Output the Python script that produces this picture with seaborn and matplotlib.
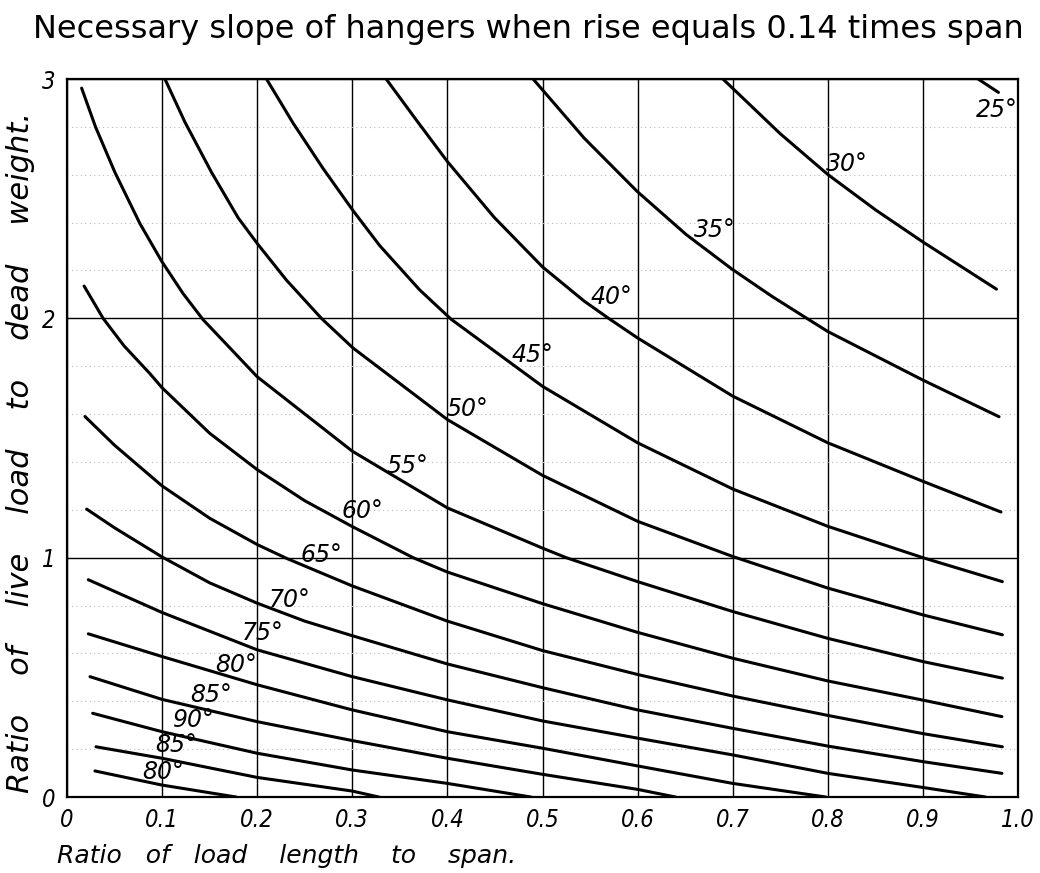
import numpy as np
import pandas as pd
import seaborn as sns
import matplotlib.pyplot as plt
from matplotlib.ticker import MultipleLocator

#****************************************
# Curves: x = load length / span, y = live load / dead weight
x_25 = [0.958, 0.9794]
y_25 = [3.00, 2.944]

x_30 = [0.6897, 0.7498, 0.80, 0.8506, 0.90, 0.9773]
y_30 = [3.00, 2.772, 2.601, 2.452, 2.319, 2.122]

x_35 = [0.4901, 0.5438, 0.5996, 0.6511, 0.6991, 0.7412, 0.7755, 0.80, 0.90, 0.98]
y_35 = [3.00, 2.753, 2.53, 2.35, 2.206, 2.092, 2.006, 1.945, 1.742, 1.589]

x_40 = [0.3356, 0.3678, 0.40, 0.4494, 0.50, 0.5438, 0.5695, 0.60, 0.70, 0.80, 0.90, 0.982]
y_40 = [3.00, 2.826, 2.655, 2.421, 2.215, 2.072, 2.00, 1.918, 1.675, 1.48, 1.319, 1.191]

x_45 = [0.2098, 0.2377, 0.2693, 0.3008, 0.3288, 0.3708, 0.404, 0.50, 0.60, 0.70, 0.80, 0.90, 0.9835]
y_45 = [3.00, 2.816, 2.626, 2.45, 2.304, 2.119, 1.996, 1.716, 1.48, 1.287, 1.131, 1.00, 0.90]

x_50 = [0.103, 0.124, 0.152, 0.180, 0.2006, 0.2307, 0.2675, 0.3008, 0.40, 0.50, 0.60, 0.70, 0.80, 0.90, 0.9835]
y_50 = [3.00, 2.82, 2.61, 2.42, 2.31, 2.16, 2.00, 1.876, 1.577, 1.344, 1.152, 1.005, 0.873, 0.761, 0.678]

x_55 = [0.0154, 0.03, 0.0504, 0.0767, 0.0995, 0.122, 0.143, 0.20, 0.30, 0.40, 0.50, 0.525, 0.60, 0.70, 0.80, 0.90, 0.9835]
y_55 = [2.962, 2.80, 2.61, 2.396, 2.239, 2.104, 1.995, 1.756, 1.445, 1.208, 1.04, 1.00, 0.90, 0.775, 0.663, 0.566, 0.497]

x_60 = [0.018, 0.038, 0.06, 0.087, 0.10, 0.15, 0.20, 0.25, 0.30, 0.364, 0.40, 0.50, 0.60, 0.70, 0.80, 0.90, 0.983]
y_60 = [2.135, 2.00, 1.885, 1.77, 1.71, 1.52, 1.368, 1.238, 1.13, 1.00, 0.94, 0.808, 0.688, 0.58, 0.485, 0.405, 0.336]

x_65 = [0.0189, 0.05, 0.10, 0.15, 0.20, 0.231, 0.30, 0.40, 0.50, 0.60, 0.70, 0.80, 0.90, 0.9835]
y_65 = [1.59, 1.47, 1.30, 1.165, 1.055, 0.997, 0.882, 0.735, 0.612, 0.512, 0.422, 0.341, 0.265, 0.21]

x_70 = [0.0207, 0.05, 0.10, 0.15, 0.20, 0.25, 0.30, 0.40, 0.50, 0.60, 0.70, 0.80, 0.90, 0.983]
y_70 = [1.203, 1.125, 1.003, 0.895, 0.81, 0.735, 0.674, 0.556, 0.457, 0.364, 0.287, 0.213, 0.148, 0.099]

x_75 = [0.0224, 0.10, 0.20, 0.30, 0.40, 0.50, 0.60, 0.70, 0.80, 0.90, 0.966]
y_75 = [0.908, 0.771, 0.615, 0.503, 0.406, 0.318, 0.246, 0.176, 0.099, 0.04, 0.0]

x_80 = [0.0224, 0.10, 0.20, 0.30, 0.40, 0.50, 0.60, 0.70, 0.798]
y_80 = [0.682, 0.587, 0.469, 0.364, 0.273, 0.204, 0.13, 0.057, 0.0]

x_85 = [0.0242, 0.10, 0.20, 0.30, 0.40, 0.50, 0.60, 0.64]
y_85 = [0.503, 0.408, 0.315, 0.236, 0.162, 0.095, 0.032, 0.0]

x_90 = [0.027, 0.10, 0.20, 0.30, 0.40, 0.488]
y_90 = [0.35, 0.273, 0.183, 0.113, 0.057, 0.0]

x_85b = [0.0305, 0.10, 0.20, 0.30, 0.328]
y_85b = [0.21, 0.162, 0.082, 0.025, 0.0]

x_80b = [0.0294, 0.10, 0.178]
y_80b = [0.109, 0.05, 0.0]

# curve labels
label_text = ["25°", "30°", "35°", "40°", "45°", "50°", "55°", "60°",
              "65°", "70°", "75°", "80°", "85°", "90°", "85°", "80°"]
label_x = [0.978, 0.82, 0.681, 0.5725, 0.4895, 0.421, 0.358, 0.311,
           0.268, 0.234, 0.206, 0.1775, 0.152, 0.133, 0.1145, 0.101]
label_y = [2.87, 2.645, 2.37, 2.088, 1.845, 1.62, 1.385, 1.197,
           1.013, 0.824, 0.686, 0.552, 0.427, 0.322, 0.218, 0.105]

x_ticks = [0, 0.1, 0.2, 0.3, 0.4, 0.5, 0.6, 0.7, 0.8, 0.9, 1.0]
x_tick_labels = ["0", "0.1", "0.2", "0.3", "0.4", "0.5", "0.6", "0.7", "0.8", "0.9", "1.0"]
y_ticks = [0, 1, 2, 3]

#****************************************
# Long-form table for seaborn
curves = [x_25, x_30, x_35, x_40, x_45, x_50, x_55, x_60,
          x_65, x_70, x_75, x_80, x_85, x_90, x_85b, x_80b]
values = [y_25, y_30, y_35, y_40, y_45, y_50, y_55, y_60,
          y_65, y_70, y_75, y_80, y_85, y_90, y_85b, y_80b]
rows = []
for i, (xs, ys) in enumerate(zip(curves, values)):
    for xv, yv in zip(xs, ys):
        rows.append({"curve": i, "x": xv, "y": yv})
df = pd.DataFrame(rows)

#****************************************
sns.set_style("white")
plt.rcParams["font.family"] = ["DejaVu Sans"]
plt.rcParams["text.color"] = "black"

fig = plt.figure(figsize=(10.4, 8.73), dpi=100)
ax = fig.add_axes([0.0644, 0.087, 0.9145, 0.8225])

sns.lineplot(data=df, x="x", y="y", units="curve", estimator=None, sort=False,
             color="black", lw=2.2, ax=ax, legend=False)

ax.set_xlim(0, 1.0)
ax.set_ylim(0, 3)
ax.set_xticks(x_ticks)
ax.set_xticklabels(x_tick_labels)
ax.set_yticks(y_ticks)
ax.yaxis.set_minor_locator(MultipleLocator(0.2))
ax.grid(which="major", color="black", lw=1.0)
ax.grid(which="minor", axis="y", color="#bbbbbb", lw=0.8, ls=(0, (1, 3)))
ax.tick_params(length=0, pad=8, labelsize=17, labelcolor="black")
for t in ax.get_xticklabels() + ax.get_yticklabels():
    t.set_style("italic")
    t.set_fontstretch("condensed")
for s in ax.spines.values():
    s.set_color("black")
    s.set_linewidth(1.6)
ax.set_xlabel("")
ax.set_ylabel("")

for txt, lx, ly in zip(label_text, label_x, label_y):
    ax.text(lx, ly, txt, fontsize=17, style="italic", ha="center", va="center")

# axis titles (spaced out like the hand lettering)
fig.text(0.055, 0.019, "Ratio   of   load    length    to    span.",
         fontsize=18, style="italic", ha="left", va="center")
fig.text(0.020, 0.482, "Ratio    of    live    load    to    dead    weight.",
         fontsize=22, style="italic", rotation=90, ha="center", va="center")

fig.text(0.508, 0.966, "Necessary slope of hangers when rise equals 0.14 times span",
         fontsize=23, ha="center", va="center")

fig.savefig("out.png", dpi=100, facecolor="white")
